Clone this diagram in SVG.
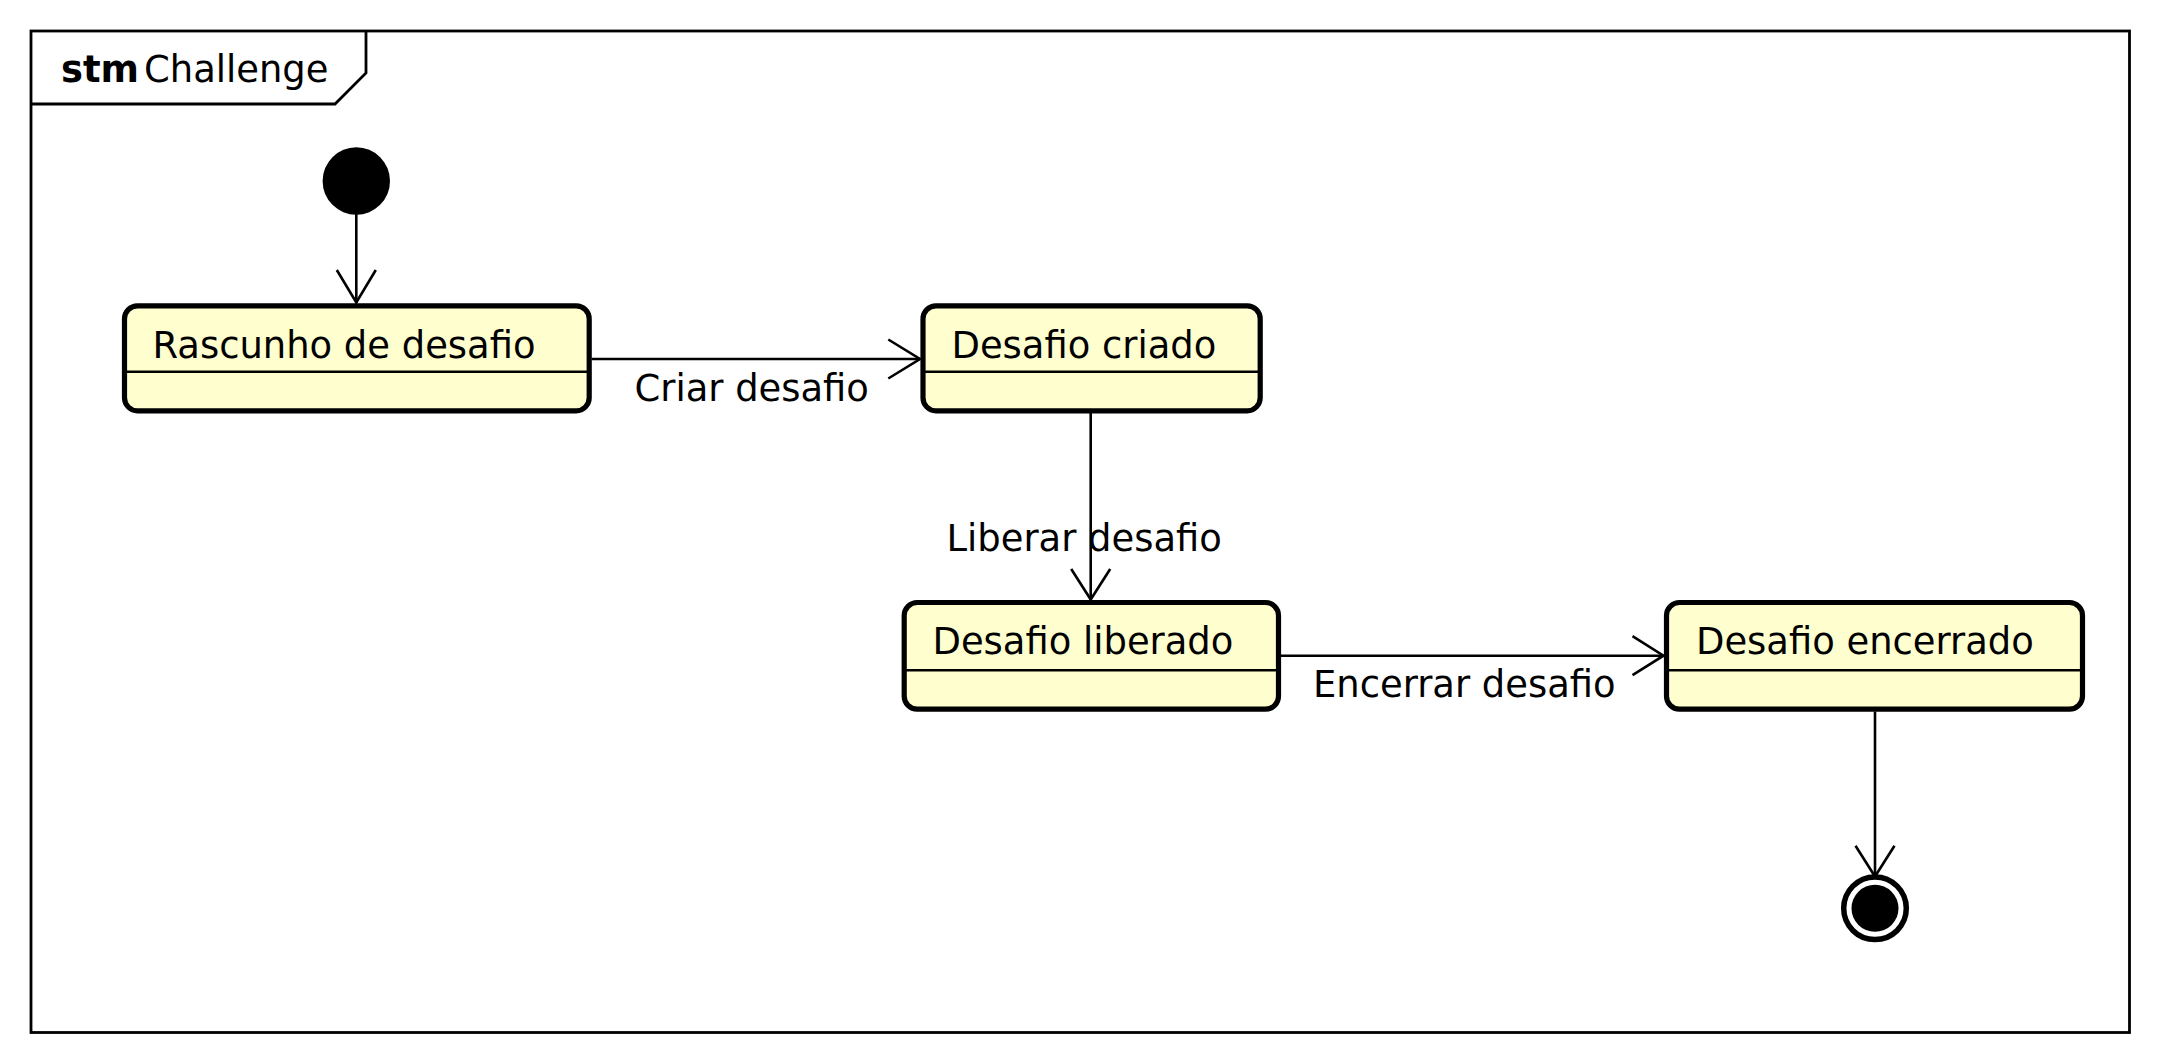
<svg xmlns="http://www.w3.org/2000/svg" width="2160" height="1063" viewBox="0 0 2160 1063">
<defs>
<style>
.t{font-family:"DejaVu Sans",sans-serif;font-size:36.9px;fill:#000}
.b{font-weight:bold}
.st{fill:#FEFECE;stroke:#000;stroke-width:5.2}
.dv{stroke:#000;stroke-width:2.6;fill:none}
.ln{stroke:#000;stroke-width:2.6;fill:none}
.ah{stroke:#000;stroke-width:2.6;fill:none;stroke-linejoin:miter}
</style>
</defs>
<rect width="2160" height="1063" fill="#fff"/>
<g id="frame">
<rect x="31" y="31" width="2098.5" height="1001.5" fill="none" stroke="#000" stroke-width="2.8"/>
<path d="M31 104 L335 104 L366 73 L366 31" fill="none" stroke="#000" stroke-width="2.8"/>
<text class="t b" x="61" y="82">stm</text>
<text class="t" x="144" y="82">Challenge</text>
</g>
<g id="connectors">
<line class="ln" x1="356.3" y1="214" x2="356.3" y2="303"/>
<polyline class="ah" points="336.8,270 356.3,302.5 375.8,270"/>
<line class="ln" x1="591.5" y1="359" x2="920" y2="359"/>
<polyline class="ah" points="888.3,339.5 920,359 888.3,378.5"/>
<text class="t" x="634.5" y="400.5">Criar desafio</text>
<line class="ln" x1="1090.7" y1="411" x2="1090.7" y2="600"/>
<polyline class="ah" points="1071.2,569 1090.7,599.5 1110.2,569"/>
<text class="t" x="946.5" y="550.7">Liberar desafio</text>
<line class="ln" x1="1281" y1="655.7" x2="1664" y2="655.7"/>
<polyline class="ah" points="1632.5,636.2 1663.5,655.7 1632.5,675.2"/>
<text class="t" x="1313" y="697">Encerrar desafio</text>
<line class="ln" x1="1875" y1="711.5" x2="1875" y2="876.5"/>
<polyline class="ah" points="1855.5,845.7 1875,876.5 1894.5,845.7"/>
</g>
<g id="initial">
<circle cx="356.3" cy="181" r="33.7" fill="#000"/>
</g>
<g id="rascunho">
<rect class="st" x="124.5" y="305.8" width="464.7" height="105" rx="13" ry="13"/>
<line class="dv" x1="124.5" y1="371.7" x2="589.2" y2="371.7"/>
<text class="t" x="152.5" y="357.7">Rascunho de desafio</text>
</g>
<g id="criado">
<rect class="st" x="923" y="305.8" width="337.2" height="105" rx="13" ry="13"/>
<line class="dv" x1="923" y1="371.7" x2="1260.2" y2="371.7"/>
<text class="t" x="951.5" y="357.7">Desafio criado</text>
</g>
<g id="liberado">
<rect class="st" x="904.2" y="602.5" width="374.3" height="106.7" rx="13" ry="13"/>
<line class="dv" x1="904.2" y1="670.3" x2="1278.5" y2="670.3"/>
<text class="t" x="932.5" y="654.3">Desafio liberado</text>
</g>
<g id="encerrado">
<rect class="st" x="1666.5" y="602.5" width="416" height="106.7" rx="13" ry="13"/>
<line class="dv" x1="1666.5" y1="670.3" x2="2082.5" y2="670.3"/>
<text class="t" x="1696" y="654.3">Desafio encerrado</text>
</g>
<g id="final">
<circle cx="1875" cy="908.3" r="31.3" fill="#fff" stroke="#000" stroke-width="5.5"/>
<circle cx="1875" cy="908.3" r="23.5" fill="#000"/>
</g>
</svg>
